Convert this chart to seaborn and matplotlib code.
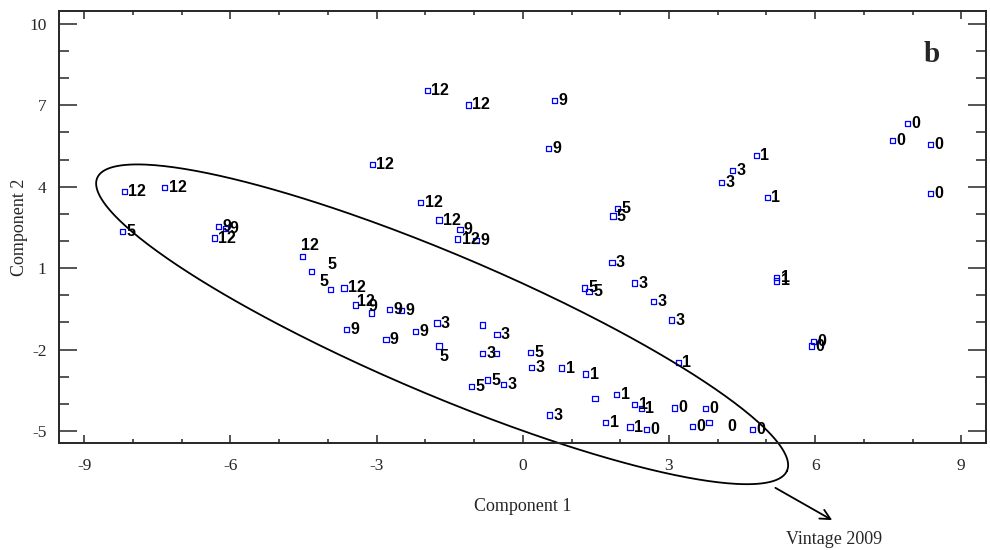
import numpy as np
import pandas as pd
import matplotlib
matplotlib.use("Agg")
import matplotlib.pyplot as plt
from matplotlib.ticker import MultipleLocator
import seaborn as sns

# scores (component 1, component 2, label)
pc1 = [7.89, 7.58, 8.37, 8.36, 5.97, 5.93, 2.54, 3.12, 3.49, 3.75, 3.82, 4.71,
       4.79, 5.02, 5.21, 5.21, 3.19, 0.80, 1.29, 1.93, 2.30, 2.43, 1.70, 2.20, 1.48,
       4.31, 4.07, 1.83, 2.30, 2.69, 3.06, -1.76, -0.53, -0.82, 0.18, -0.39, 0.55, -0.54,
       -8.22, 1.94, 1.85, 1.27, 1.36, -4.34, -3.95, -1.72, 0.15, -0.72, -1.06, -0.82,
       0.65, 0.53, -6.25, -6.10, -1.29, -0.96, -3.10, -3.62, -2.73, -2.49, -2.81, -2.20,
       -3.09, -8.18, -7.35, -6.33, -1.96, -1.12, -2.10, -1.72, -1.34, -4.53, -3.67, -3.43]
pc2 = [6.34, 5.69, 5.55, 3.75, -1.70, -1.87, -4.94, -4.15, -4.83, -4.18, -4.68, -4.95,
       5.14, 3.61, 0.65, 0.53, -2.47, -2.68, -2.90, -3.64, -4.01, -4.18, -4.67, -4.85, -3.81,
       4.61, 4.15, 1.22, 0.45, -0.24, -0.91, -1.02, -1.43, -2.14, -2.67, -3.27, -4.41, -2.14,
       2.35, 3.21, 2.92, 0.27, 0.13, 0.89, 0.20, -1.87, -2.11, -3.12, -3.37, -1.09,
       7.18, 5.42, 2.52, 2.45, 2.41, 2.02, -0.65, -1.27, -0.51, -0.57, -1.63, -1.32,
       4.83, 3.83, 3.98, 2.11, 7.55, 7.01, 3.43, 2.77, 2.07, 1.43, 0.27, -0.36]
labels = ["0"] * 12 + ["1"] * 12 + [""] + ["3"] * 12 + [""] + ["5"] * 11 + [""] + ["9"] * 12 + ["12"] * 12

df = pd.DataFrame({"pc1": pc1, "pc2": pc2, "label": labels})

# label nudges (pixels) where the label is not just to the right of the marker
nudge = {10: (18, 4), 43: (16, -7), 44: (-11, -8), 45: (0, 10),
         56: (-3, -6), 71: (-1, -11), 73: (1, -4)}

sns.set_style("ticks")
plt.rcParams["font.family"] = ["Liberation Serif", "DejaVu Serif"]
plt.rcParams["axes.unicode_minus"] = False

fig = plt.figure(figsize=(9.9, 5.5), dpi=100)
ax = fig.add_axes([0.0596, 0.1945, 0.936, 0.7855])

sns.scatterplot(data=df, x="pc1", y="pc2", ax=ax, marker="s", s=14,
                facecolors="none", edgecolor="blue", linewidth=0.9, legend=False)

for i, row in df.iterrows():
    if not row["label"]:
        continue
    dx, dy = nudge.get(i, (4, 0))
    ax.annotate(row["label"], (row["pc1"], row["pc2"]), xytext=(dx * 0.72, -dy * 0.72),
                textcoords="offset points", ha="left", va="center", color="black",
                fontsize=11.5, fontweight="bold", family="Liberation Sans")

# confidence ellipse around the 2009 vintage
t = np.linspace(0, 2 * np.pi, 400)
ex = -1.656 + 7.08 * np.cos(t) - 0.561 * np.sin(t)
ey = -1.068 - 5.39 * np.cos(t) - 2.37 * np.sin(t)
ax.plot(ex, ey, color="black", lw=1.3, clip_on=False)

ax.annotate("", xy=(6.40, -8.33), xytext=(5.135, -7.04), annotation_clip=False,
            arrowprops=dict(arrowstyle="->", color="black", lw=1.3, mutation_scale=18))
ax.text(6.38, -9.0, "Vintage 2009", ha="center", va="center", fontsize=13, clip_on=False)

ax.text(0.942, 0.90, "b", transform=ax.transAxes, ha="center", va="center",
        fontsize=21, fontweight="bold")

ax.set_xlim(-9.52, 9.5)
ax.set_ylim(-5.44, 10.47)
ax.set_xticks([-9, -6, -3, 0, 3, 6, 9])
ax.set_yticks([10, 7, 4, 1, -2, -5])
ax.xaxis.set_minor_locator(MultipleLocator(1))
ax.yaxis.set_minor_locator(MultipleLocator(1))
ax.tick_params(which="both", direction="in", top=True, right=True, width=1.1, labelsize=12.5)
ax.tick_params(axis="x", which="major", length=5.5, pad=11)
ax.tick_params(axis="x", which="minor", length=3)
ax.tick_params(axis="y", which="major", length=13, pad=9)
ax.tick_params(axis="y", which="minor", length=7)
for sp in ax.spines.values():
    sp.set_linewidth(1.4)

ax.set_xlabel("Component 1", fontsize=13, labelpad=17)
ax.set_ylabel("Component 2", fontsize=13, labelpad=1)

fig.savefig("out.png", dpi=100)
